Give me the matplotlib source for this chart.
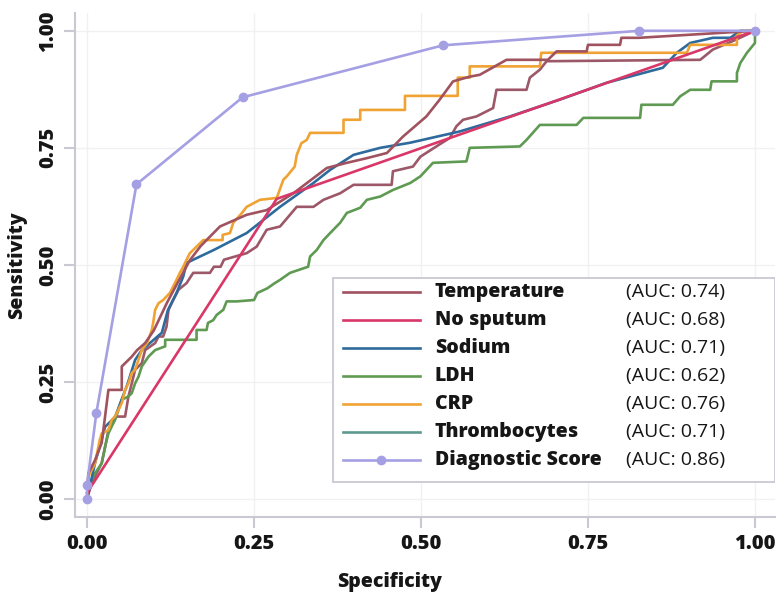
import matplotlib
matplotlib.use("Agg")
import matplotlib.pyplot as plt
from matplotlib.lines import Line2D
from matplotlib.patches import Rectangle

# ROC curve data (x = 1 - specificity axis as drawn, y = sensitivity)
temp_x = [0, 0.002, 0.012, 0.022, 0.027, 0.032, 0.052, 0.052, 0.067, 0.075,
          0.087, 0.10, 0.12, 0.135, 0.154, 0.17, 0.199, 0.239, 0.269, 0.309,
          0.359, 0.389, 0.419, 0.449, 0.473, 0.508, 0.528, 0.548, 0.573, 0.588,
          0.628, 0.69, 0.703, 0.748, 0.75, 0.798, 0.80, 0.826, 1.0]
temp_y = [0, 0.055, 0.083, 0.12, 0.176, 0.233, 0.233, 0.283, 0.304, 0.318,
          0.333, 0.36, 0.42, 0.46, 0.51, 0.54, 0.582, 0.607, 0.617, 0.653,
          0.707, 0.718, 0.728, 0.739, 0.774, 0.817, 0.853, 0.892, 0.902, 0.906,
          0.938, 0.938, 0.956, 0.956, 0.97, 0.97, 0.985, 0.985, 1.0]

sputum_x = [0, 0.284, 1.0]
sputum_y = [0.013, 0.641, 1.0]

sodium_x = [0, 0.012, 0.027, 0.042, 0.061, 0.072, 0.082, 0.112, 0.121, 0.134,
            0.144, 0.149, 0.159, 0.19, 0.239, 0.289, 0.339, 0.364, 0.399, 0.439,
            0.484, 0.558, 0.633, 0.708, 0.778, 0.862, 0.883, 0.903, 0.937, 0.963,
            0.978, 1.0]
sodium_y = [0, 0.077, 0.154, 0.175, 0.247, 0.297, 0.318, 0.355, 0.403, 0.44,
            0.475, 0.504, 0.511, 0.532, 0.568, 0.624, 0.675, 0.703, 0.735, 0.75,
            0.761, 0.785, 0.817, 0.853, 0.889, 0.921, 0.953, 0.974, 0.985, 0.985,
            1.0, 1.0]

ldh_x = [0, 0.002, 0.012, 0.022, 0.027, 0.032, 0.037, 0.042, 0.047, 0.052,
         0.062, 0.067, 0.072, 0.077, 0.082, 0.092, 0.102, 0.117, 0.117, 0.164,
         0.164, 0.179, 0.181, 0.189, 0.194, 0.204, 0.209, 0.224, 0.25, 0.255,
         0.27, 0.28, 0.289, 0.304, 0.331, 0.334, 0.344, 0.354, 0.364, 0.379,
         0.389, 0.409, 0.419, 0.439, 0.458, 0.484, 0.499, 0.518, 0.568, 0.573,
         0.648, 0.658, 0.678, 0.733, 0.743, 0.828, 0.83, 0.877, 0.888, 0.903,
         0.933, 0.935, 0.973, 0.973, 0.978, 0.988, 1.0, 1.0]
ldh_y = [0, 0.026, 0.055, 0.076, 0.112, 0.14, 0.155, 0.169, 0.19, 0.212,
         0.219, 0.226, 0.247, 0.261, 0.283, 0.304, 0.318, 0.326, 0.34, 0.34,
         0.361, 0.361, 0.376, 0.382, 0.393, 0.404, 0.422, 0.422, 0.425, 0.44,
         0.45, 0.46, 0.468, 0.483, 0.496, 0.518, 0.532, 0.553, 0.568, 0.59,
         0.611, 0.622, 0.639, 0.646, 0.66, 0.675, 0.689, 0.718, 0.721, 0.75,
         0.753, 0.767, 0.799, 0.799, 0.814, 0.814, 0.842, 0.842, 0.86, 0.874,
         0.874, 0.892, 0.892, 0.91, 0.931, 0.953, 0.974, 1.0]

crp_x = [0, 0.002, 0.012, 0.019, 0.022, 0.032, 0.037, 0.042, 0.052, 0.057,
         0.062, 0.067, 0.072, 0.077, 0.082, 0.09, 0.097, 0.099, 0.102, 0.107,
         0.114, 0.124, 0.129, 0.134, 0.139, 0.144, 0.149, 0.154, 0.164, 0.174,
         0.203, 0.203, 0.214, 0.219, 0.232, 0.239, 0.259, 0.284, 0.294, 0.299,
         0.311, 0.314, 0.321, 0.329, 0.334, 0.384, 0.384, 0.409, 0.409, 0.476,
         0.476, 0.555, 0.555, 0.573, 0.573, 0.678, 0.68, 0.898, 0.903, 0.973,
         0.973, 0.982, 1.0]
crp_y = [0, 0.048, 0.076, 0.126, 0.14, 0.147, 0.169, 0.176, 0.205, 0.233,
         0.247, 0.269, 0.276, 0.297, 0.318, 0.333, 0.361, 0.376, 0.404, 0.418,
         0.425, 0.44, 0.454, 0.468, 0.483, 0.496, 0.511, 0.525, 0.539, 0.553,
         0.553, 0.564, 0.568, 0.59, 0.611, 0.624, 0.639, 0.643, 0.682, 0.689,
         0.71, 0.735, 0.76, 0.767, 0.782, 0.782, 0.81, 0.81, 0.831, 0.831,
         0.861, 0.861, 0.9, 0.9, 0.924, 0.924, 0.953, 0.953, 0.97, 0.97,
         0.99, 1.0, 1.0]

thromb_x = [0, 0.007, 0.022, 0.027, 0.032, 0.042, 0.057, 0.062, 0.067, 0.072,
            0.082, 0.087, 0.102, 0.107, 0.114, 0.119, 0.122, 0.129, 0.137, 0.149,
            0.159, 0.184, 0.19, 0.20, 0.205, 0.239, 0.254, 0.269, 0.289, 0.314,
            0.339, 0.354, 0.379, 0.399, 0.419, 0.456, 0.458, 0.488, 0.499, 0.523,
            0.543, 0.553, 0.563, 0.583, 0.608, 0.613, 0.658, 0.663, 0.678, 0.688,
            0.918, 0.937, 0.97, 1.0]
thromb_y = [0, 0.034, 0.077, 0.11, 0.147, 0.176, 0.176, 0.219, 0.247, 0.276,
            0.29, 0.318, 0.333, 0.347, 0.347, 0.368, 0.404, 0.425, 0.447, 0.461,
            0.483, 0.483, 0.496, 0.496, 0.511, 0.525, 0.539, 0.575, 0.582, 0.624,
            0.624, 0.639, 0.653, 0.671, 0.671, 0.671, 0.70, 0.71, 0.731, 0.753,
            0.771, 0.796, 0.81, 0.817, 0.835, 0.874, 0.874, 0.90, 0.917, 0.935,
            0.938, 0.96, 0.98, 1.0]

score_x = [0, 0, 0.014, 0.074, 0.233, 0.533, 0.827, 1.0]
score_y = [0, 0.03, 0.184, 0.672, 0.858, 0.969, 1.0, 1.0]

names = ["Temperature", "No sputum", "Sodium", "LDH", "CRP", "Thrombocytes", "Diagnostic Score"]
aucs = ["0.74", "0.68", "0.71", "0.62", "0.76", "0.71", "0.86"]
colors = ["#a0525f", "#d93768", "#2e6b9c", "#5f9a52", "#f0a233", "#5f9a90", "#a59fe3"]
thromb_line_color = "#9c5868"  # drawn maroon-ish in the original picture

ticks = [0.0, 0.25, 0.5, 0.75, 1.0]
tick_labels = ["0.00", "0.25", "0.50", "0.75", "1.00"]

plt.rcParams['font.family'] = ['Open Sans', 'DejaVu Sans']
ink = '#161616'

fig = plt.figure(figsize=(7.83, 5.98), dpi=100)
ax = fig.add_axes([75 / 783, 81 / 598, 700 / 783, 504 / 598])

lw = 1.9
ax.plot(thromb_x, thromb_y, color=thromb_line_color, lw=lw)
ax.plot(ldh_x, ldh_y, color=colors[3], lw=lw)
ax.plot(sodium_x, sodium_y, color=colors[2], lw=lw)
ax.plot(crp_x, crp_y, color=colors[4], lw=lw)
ax.plot(temp_x, temp_y, color=colors[0], lw=lw)
ax.plot(sputum_x, sputum_y, color=colors[1], lw=lw)
ax.plot(score_x, score_y, color=colors[6], lw=lw, marker='o', markersize=6)

ax.set_xlim(-0.018, 1.03)
ax.set_ylim(-0.0385, 1.038)
ax.set_xticks(ticks)
ax.set_xticklabels(tick_labels)
ax.set_yticks(ticks)
ax.set_yticklabels(tick_labels, rotation=90, va='center')

spine_col = "#c9c9d3"
for s in ['top', 'right']:
    ax.spines[s].set_visible(False)
for s in ['left', 'bottom']:
    ax.spines[s].set_color(spine_col)
    ax.spines[s].set_linewidth(1.5)
ax.tick_params(axis='both', colors=spine_col, length=8, width=1.5,
               labelcolor=ink, labelsize=14.5, pad=4)
for lab in ax.get_xticklabels() + ax.get_yticklabels():
    lab.set_fontweight('heavy')
ax.grid(True, color='#f1f1f4', lw=1.0)
ax.set_axisbelow(True)

ax.set_xlabel("Specificity", fontsize=14, fontweight='heavy', color=ink)
ax.xaxis.set_label_coords(0.45, -0.11)
ax.set_ylabel("Sensitivity", fontsize=14, fontweight='heavy', color=ink, labelpad=8)

# legend box built by hand (bold names + regular AUC column)
box_l, box_r, box_t, box_b = 0.369, 1.0, 0.474, 0.069
ax.add_patch(Rectangle((box_l, box_b), box_r - box_l, box_t - box_b, transform=ax.transAxes,
                       facecolor='white', edgecolor='#c9c9d3', lw=1.3, zorder=5))
row0, row_step = 0.446, 0.0556
for i, (name, auc, col) in enumerate(zip(names, aucs, colors)):
    yy = row0 - i * row_step
    ax.add_line(Line2D([0.383, 0.493], [yy, yy], transform=ax.transAxes, color=col, lw=lw, zorder=6))
    if name == "Diagnostic Score":
        ax.add_line(Line2D([0.437], [yy], transform=ax.transAxes, color=col, marker='o',
                           markersize=6, zorder=6))
    ax.text(0.514, yy, name, transform=ax.transAxes, fontsize=14, fontweight='heavy',
            color=ink, va='center', ha='left', zorder=7)
    ax.text(0.787, yy, "(AUC: %s)" % auc, transform=ax.transAxes, fontsize=14,
            color=ink, va='center', ha='left', zorder=7)

fig.savefig("out.png", dpi=100)
